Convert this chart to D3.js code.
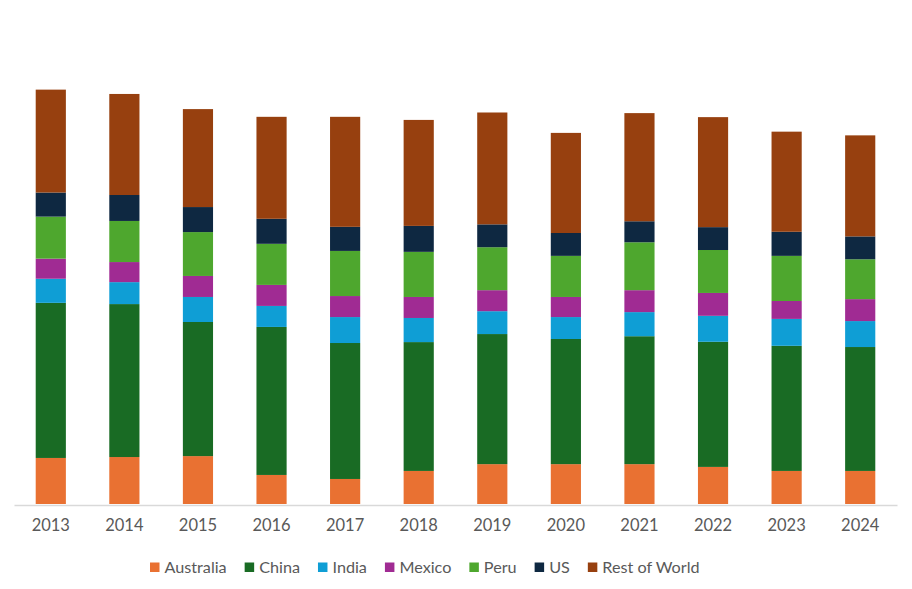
<!DOCTYPE html>
<html>
<head>
<meta charset="utf-8">
<script src="https://cdn.jsdelivr.net/npm/d3@7.9.0/dist/d3.min.js"></script>
<style>
  html, body { margin: 0; padding: 0; background: #fff; }
  svg { display: block; font-family: Lato, "Open Sans", sans-serif; }
</style>
</head>
<body>
<svg id="chart" width="912" height="589"></svg>
<script>
// zinc mine production by country, Mt
const years = ['2013', '2014', '2015', '2016', '2017', '2018', '2019', '2020', '2021', '2022', '2023', '2024'];
const countries = ['Australia', 'China', 'India', 'Mexico', 'Peru', 'US', 'Rest of World'];

const australia = [1.49, 1.52, 1.55, 0.94, 0.81, 1.07, 1.29, 1.29, 1.29, 1.20, 1.07, 1.07];
const china     = [5.02, 4.95, 4.34, 4.79, 4.40, 4.17, 4.21, 4.05, 4.14, 4.05, 4.05, 4.01];
const india     = [0.78, 0.71, 0.81, 0.68, 0.84, 0.78, 0.74, 0.71, 0.78, 0.84, 0.87, 0.84];
const mexico    = [0.65, 0.65, 0.68, 0.68, 0.68, 0.68, 0.68, 0.65, 0.71, 0.74, 0.58, 0.71];
const peru      = [1.36, 1.33, 1.42, 1.33, 1.46, 1.46, 1.39, 1.33, 1.55, 1.39, 1.46, 1.29];
const us        = [0.78, 0.84, 0.81, 0.81, 0.78, 0.84, 0.74, 0.74, 0.68, 0.74, 0.78, 0.74];
const restWorld = [3.33, 3.27, 3.17, 3.30, 3.56, 3.43, 3.62, 3.24, 3.50, 3.56, 3.24, 3.27];

const colors = ['#E97132', '#196B24', '#0F9ED5', '#A02B93', '#4EA72E', '#0E2841', '#97400F'];

const series = [australia, china, india, mexico, peru, us, restWorld];
const table = years.map((y, i) => {
  const row = { year: y };
  countries.forEach((c, k) => { row[c] = series[k][i]; });
  return row;
});

const svg = d3.select('#chart');
const baseY = 504;

const xScale = d3.scaleBand()
  .domain(years)
  .range([14, 897])
  .paddingInner(0.59)
  .paddingOuter(0.295);

const yScale = d3.scaleLinear().domain([0, 16]).range([baseY, baseY - 16 * 30.9]);

const color = d3.scaleOrdinal().domain(countries).range(colors);

const stacked = d3.stack().keys(countries)(table);

// Bars
svg.append('g')
  .selectAll('g')
  .data(stacked)
  .join('g')
  .attr('fill', (d) => color(d.key))
  .selectAll('rect')
  .data((d) => d)
  .join('rect')
  .attr('x', (d) => xScale(d.data.year))
  .attr('width', xScale.bandwidth())
  .attr('y', (d) => yScale(d[1]))
  .attr('height', (d) => yScale(d[0]) - yScale(d[1]));

// X axis
const xAxis = svg.append('g')
  .attr('transform', `translate(0, ${baseY + 1})`)
  .call(d3.axisBottom(xScale).tickSize(0).tickPadding(14));

xAxis.select('.domain').attr('stroke', '#d9d9d9').attr('stroke-width', 1.5);
xAxis.selectAll('text')
  .attr('fill', '#595959')
  .style('font-size', '16.5px')
  .style('font-family', 'Lato, "Open Sans", sans-serif');

// Legend
const legend = svg.append('g').attr('transform', 'translate(150, 567)');
let lx = 0;
countries.forEach((c) => {
  const item = legend.append('g').attr('transform', `translate(${lx}, 0)`);
  item.append('rect')
    .attr('x', 0)
    .attr('y', -4.5)
    .attr('width', 9.5)
    .attr('height', 9.5)
    .attr('fill', color(c));
  const t = item.append('text')
    .attr('x', 14.5)
    .attr('y', 0)
    .attr('dy', '0.35em')
    .attr('fill', '#595959')
    .style('font-size', '16.2px')
    .text(c);
  lx += 14.5 + t.node().getComputedTextLength() + 18;
});
</script>
</body>
</html>
